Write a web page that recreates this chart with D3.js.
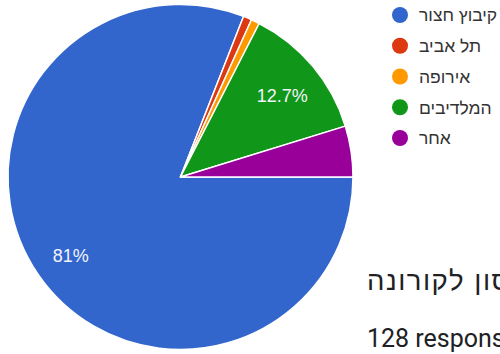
<!DOCTYPE html>
<html>
<head>
<meta charset="utf-8">
<script src="https://cdn.jsdelivr.net/npm/d3@7"></script>
<style>
  html, body { margin: 0; padding: 0; background: #fff; overflow: hidden; }
  svg { display: block; }
</style>
</head>
<body>
<svg id="chart" width="500" height="354"></svg>
<script>
// Data (126 answers to this question; 128 responses shown in header)
const categories = ["קיבוץ חצור", "תל אביב", "אירופה", "המלדיבים", "אחר"];
const counts = [102, 1, 1, 16, 6];
const colors = ["#3366cc", "#dc3912", "#ff9900", "#109618", "#990099"];
const titleText = "סון לקורונה";
const responsesText = "128 respons";

const svg = d3.select("#chart");
const cx = 180.5, cy = 177, R = 172.5;
const total = d3.sum(counts);
const data = categories.map((c, i) => ({ name: c, value: counts[i], color: colors[i] }));

const pie = d3.pie()
  .value(d => d.value)
  .sort(null)
  .startAngle(Math.PI / 2)
  .endAngle(Math.PI / 2 + 2 * Math.PI);
const arcs = pie(data);

const arc = d3.arc().innerRadius(0).outerRadius(R);
const labelArc = d3.arc().innerRadius(R * 0.77).outerRadius(R * 0.77);

const g = svg.append("g").attr("transform", `translate(${cx},${cy})`);
g.selectAll("path.slice")
  .data(arcs)
  .join("path")
  .attr("class", "slice")
  .attr("d", arc)
  .attr("fill", d => d.data.color)
  .attr("stroke", "#ffffff")
  .attr("stroke-width", 1.5)
  .attr("stroke-linejoin", "round");

const fmt = v => {
  const p = v / total * 100;
  return (Math.round(p * 10) / 10).toString() + "%";
};

g.selectAll("text.pct")
  .data(arcs.filter(d => d.data.value / total > 0.1))
  .join("text")
  .attr("class", "pct")
  .attr("transform", d => `translate(${labelArc.centroid(d)})`)
  .attr("text-anchor", "middle")
  .attr("dy", "0.58em")
  .attr("fill", "#f2f4fb")
  .attr("font-family", "'Liberation Sans', Arial, sans-serif")
  .attr("font-size", 18)
  .text(d => fmt(d.data.value));

// Legend
const legend = svg.append("g");
const legY = d3.scalePoint().domain(categories).range([15, 138]);
const items = legend.selectAll("g.item")
  .data(data)
  .join("g")
  .attr("class", "item")
  .attr("transform", d => `translate(400,${legY(d.name)})`);
items.append("circle").attr("r", 8).attr("fill", d => d.color);
items.append("text")
  .attr("x", 19)
  .attr("dy", "0.36em")
  .attr("fill", "#333333")
  .attr("font-family", "'Liberation Sans', Arial, sans-serif")
  .attr("font-size", 17.5)
  .text(d => d.name);

// Bottom header texts (cropped at right edge, as in the reference)
svg.append("text")
  .attr("x", 367).attr("y", 290)
  .attr("fill", "#202124")
  .attr("font-family", "'Liberation Sans', Arial, sans-serif")
  .attr("font-size", 27.5)
  .attr("letter-spacing", 1.5)
  .text(titleText);
svg.append("text")
  .attr("x", 367).attr("y", 347)
  .attr("fill", "#202124")
  .attr("font-family", "Roboto, 'Liberation Sans', Arial, sans-serif")
  .attr("font-size", 25)
  .text(responsesText);
</script>
</body>
</html>
